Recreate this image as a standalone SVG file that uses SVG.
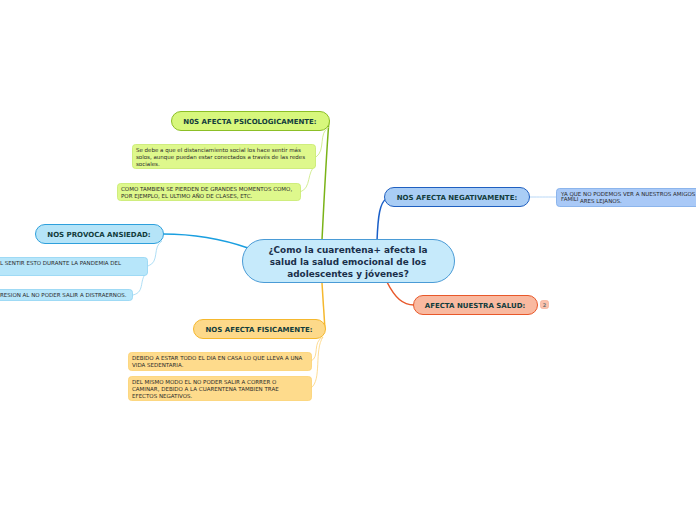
<svg xmlns="http://www.w3.org/2000/svg" width="696" height="520" viewBox="0 0 696 520">
<style>
text{font-family:"DejaVu Sans","Verdana",sans-serif}
.main{font-size:8.9px;font-weight:bold;fill:#1a2f4a;text-anchor:middle}
.lbl{font-size:7px;font-weight:bold;fill:#123c3c;text-anchor:middle}
.sub{font-size:5.5px;fill:#2a2a2a}
.c{fill:none;stroke-width:1.5}
.t{fill:none;stroke-width:0.8}
</style>
<rect width="696" height="520" fill="#ffffff"/>
<g id="connectors">
<path class="c" stroke="#7ab317" d="M322,240 C324,200 326,160 329,120"/>
<path class="c" stroke="#1a9fe0" d="M163,234 C200,234 225,240 248,248"/>
<path class="c" stroke="#1a5fc8" d="M377,241 C378,215 380,203 386,199"/>
<path class="c" stroke="#e8582a" d="M387,282 C395,298 403,305 414,305"/>
<path class="c" stroke="#f5b82e" d="M322,283 C323,300 324,315 325,330"/>
<path class="t" stroke="#a7cef5" d="M529,197 C540,197 545,197 556,197"/>
<path class="t" stroke="#c8e87a" d="M329,127 C318,133 326,150 316,157"/>
<path class="t" stroke="#c8e87a" d="M316,165 C306,172 312,188 300,192"/>
<path class="t" stroke="#9ad6f2" d="M162,241 C152,247 160,262 148,266"/>
<path class="t" stroke="#9ad6f2" d="M148,272 C138,278 146,292 133,295"/>
<path class="t" stroke="#fcd37a" d="M323,337 C312,342 320,357 311,361"/>
<path class="t" stroke="#fcd37a" d="M323,337 C314,350 322,380 311,388"/>
</g>
<g id="central">
<rect x="242.5" y="239.5" width="212" height="43" rx="21.5" fill="#c6eafb" stroke="#4a9bd6" stroke-width="1"/>
<text class="main" x="348" y="253">¿Como la cuarentena+ afecta la</text>
<text class="main" x="348" y="265">salud la salud emocional de los</text>
<text class="main" x="348" y="277">adolescentes y jóvenes?</text>
</g>
<g id="psico">
<rect x="171.5" y="111.5" width="158" height="19" rx="9.5" fill="#d7f77c" stroke="#8cbf26" stroke-width="1"/>
<text class="lbl" x="250" y="123.5">N0S AFECTA PSICOLOGICAMENTE:</text>
</g>
<g id="psico1">
<rect x="132.5" y="144.5" width="183" height="24" rx="3" fill="#def88c" stroke="#c6ea6c" stroke-width="0.8"/>
<text class="sub" x="136" y="152">Se debe a que el distanciamiento social los hace sentir más</text>
<text class="sub" x="136" y="159">solos, aunque puedan estar conectados a través de las redes</text>
<text class="sub" x="136" y="166">sociales.</text>
</g>
<g id="psico2">
<rect x="117.5" y="183.5" width="183" height="17" rx="3" fill="#def88c" stroke="#c6ea6c" stroke-width="0.8"/>
<text class="sub" x="121" y="191">COMO TAMBIEN SE PIERDEN DE GRANDES MOMENTOS COMO,</text>
<text class="sub" x="121" y="197.5">POR EJEMPLO, EL ULTIMO AÑO DE CLASES, ETC.</text>
</g>
<g id="ansiedad">
<rect x="35.5" y="224.5" width="128" height="19" rx="9.5" fill="#b5e4f8" stroke="#2ea0dc" stroke-width="1"/>
<text class="lbl" x="99" y="236.5">NOS PROVOCA ANSIEDAD:</text>
</g>
<g id="ansiedad1">
<rect x="-10.5" y="257.5" width="158" height="18" rx="3" fill="#b7e6fa" stroke="#8fd3f2" stroke-width="0.8"/>
<text class="sub" x="0" y="265">L SENTIR ESTO DURANTE LA PANDEMIA DEL</text>
</g>
<g id="ansiedad2">
<rect x="-10.5" y="289.5" width="143" height="11" rx="3" fill="#b7e6fa" stroke="#8fd3f2" stroke-width="0.8"/>
<text class="sub" x="0" y="297">RESION AL NO PODER SALIR A DISTRAERNOS.</text>
</g>
<g id="negativamente">
<rect x="384.5" y="187.5" width="145" height="19" rx="9.5" fill="#a9cdf5" stroke="#1f5fc0" stroke-width="1"/>
<text class="lbl" x="457" y="199.5">NOS AFECTA NEGATIVAMENTE:</text>
</g>
<g id="negativamente1">
<rect x="556.5" y="188.5" width="145" height="18" rx="3" fill="#a9c9f7" stroke="#7aa8e8" stroke-width="0.8"/>
<text class="sub" x="561" y="196">YA QUE NO PODEMOS VER A NUESTROS AMIGOS</text>
<text class="sub" x="561" y="201">FAMILI</text>
<text class="sub" x="580" y="203">ARES LEJANOS.</text>
</g>
<g id="salud">
<rect x="413.5" y="295.5" width="124" height="19" rx="9.5" fill="#f9b9a0" stroke="#e8582a" stroke-width="1"/>
<text class="lbl" x="475" y="307.5">AFECTA NUESTRA SALUD:</text>
<rect x="540.5" y="300.5" width="8" height="8" rx="2" fill="#fbc2ad" stroke="#f5a88c" stroke-width="0.6"/>
<text x="544.5" y="306.5" font-size="5" font-weight="bold" fill="#777" text-anchor="middle">2</text>
</g>
<g id="fisicamente">
<rect x="193.5" y="319.5" width="132" height="19" rx="9.5" fill="#fdd98a" stroke="#f5b82e" stroke-width="1"/>
<text class="lbl" x="259" y="331.5">NOS AFECTA FISICAMENTE:</text>
</g>
<g id="fisicamente1">
<rect x="128.5" y="352.5" width="183" height="18" rx="3" fill="#fedb8c" stroke="#fbd070" stroke-width="0.8"/>
<text class="sub" x="132" y="360">DEBIDO A ESTAR TODO EL DIA EN CASA LO QUE LLEVA A UNA</text>
<text class="sub" x="132" y="367">VIDA SEDENTARIA.</text>
</g>
<g id="fisicamente2">
<rect x="128.5" y="376.5" width="183" height="24" rx="3" fill="#fedb8c" stroke="#fbd070" stroke-width="0.8"/>
<text class="sub" x="132" y="384">DEL MISMO MODO EL NO PODER SALIR A CORRER O</text>
<text class="sub" x="132" y="391">CAMINAR, DEBIDO A LA CUARENTENA TAMBIEN TRAE</text>
<text class="sub" x="132" y="398">EFECTOS NEGATIVOS.</text>
</g>
</svg>
